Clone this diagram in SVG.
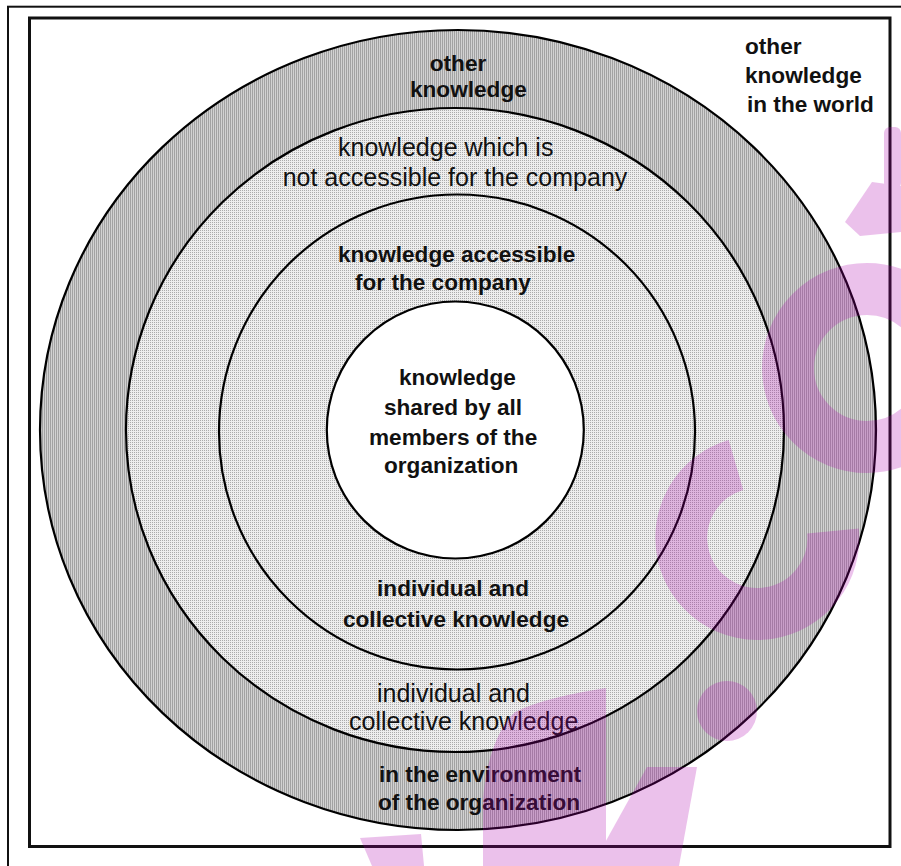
<svg xmlns="http://www.w3.org/2000/svg" width="901" height="866" viewBox="0 0 901 866">
  <defs>
    <pattern id="pDark" width="2" height="2" patternUnits="userSpaceOnUse">
      <rect width="2" height="2" fill="#d2d2d2"/>
      <rect width="1" height="2" fill="#a2a2a2"/>
    </pattern>
    <pattern id="pLight" width="2" height="2" patternUnits="userSpaceOnUse">
      <rect width="2" height="2" fill="#eeeeee"/>
      <rect width="1" height="1" fill="#ababab"/>
    </pattern>
  </defs>
  <style>
    .ring { stroke: #000; stroke-width: 2.2; }
    .b { font-family: "Liberation Sans", Arial, sans-serif; font-weight: bold; font-size: 22.6px; fill: #111; }
    .r { font-family: "Liberation Sans", Arial, sans-serif; font-size: 25px; fill: #111; }
    .wm { fill: #b000b0; }
  </style>
  <rect width="901" height="866" fill="#ffffff"/>
  <g id="frame">
    <rect x="8" y="6.7" width="1000" height="1000" fill="none" stroke="#111" stroke-width="2"/>
    <rect x="29.5" y="18" width="860.5" height="828.5" fill="#ffffff" stroke="#111" stroke-width="3"/>
  </g>
  <g id="world">
    <text class="b" x="745" y="54">other</text>
    <text class="b" x="745" y="83">knowledge</text>
    <text class="b" x="747" y="112">in the world</text>
  </g>
  <g id="other-knowledge">
    <ellipse class="ring" cx="458" cy="430" rx="418" ry="400" fill="url(#pDark)"/>
    <text class="b" x="458" y="71" text-anchor="middle">other</text>
    <text class="b" x="410" y="97">knowledge</text>
    <text class="b" x="379" y="782">in the environment</text>
    <text class="b" x="378" y="810">of the organization</text>
  </g>
  <g id="not-accessible">
    <ellipse class="ring" cx="455" cy="430" rx="329" ry="322" fill="url(#pLight)"/>
    <text class="r" x="338" y="156">knowledge which is</text>
    <text class="r" x="455" y="186" text-anchor="middle">not accessible for the company</text>
    <text class="r" x="377" y="702">individual and</text>
    <text class="r" x="349" y="730">collective knowledge</text>
  </g>
  <g id="accessible">
    <ellipse class="ring" cx="457" cy="432" rx="238" ry="237.5" fill="url(#pLight)"/>
    <text class="b" x="338" y="262">knowledge accessible</text>
    <text class="b" x="355" y="290">for the company</text>
    <text class="b" x="453" y="596" text-anchor="middle">individual and</text>
    <text class="b" x="343" y="627">collective knowledge</text>
  </g>
  <g id="shared">
    <circle class="ring" cx="455.3" cy="430" r="128.5" fill="#ffffff"/>
    <text class="b" x="399" y="385">knowledge</text>
    <text class="b" x="384" y="415">shared by all</text>
    <text class="b" x="369" y="445">members of the</text>
    <text class="b" x="384" y="473">organization</text>
  </g>
  <g id="watermark" opacity="0.24">
    <circle cx="867" cy="368" r="79" fill="none" stroke="#b000b0" stroke-width="52"/>
    <path d="M 736 465 A 76 76 0 1 0 833 531" fill="none" stroke="#b000b0" stroke-width="52"/>
    <circle class="wm" cx="727" cy="711" r="30"/>
    <polygon class="wm" points="845,222 872,182 901,186 901,232 860,236"/>
    <rect class="wm" x="884" y="127" width="17" height="62" rx="6"/>
    <path class="wm" d="M 483 866 L 483 800 C 486 760 498 728 515 712 C 540 700 570 694 606 688 L 606 866 Z"/>
    <polygon class="wm" points="647,767 697,767 679,866 592,866"/>
    <polygon class="wm" points="360,838 421,834 424,866 372,866"/>
  </g>
</svg>
